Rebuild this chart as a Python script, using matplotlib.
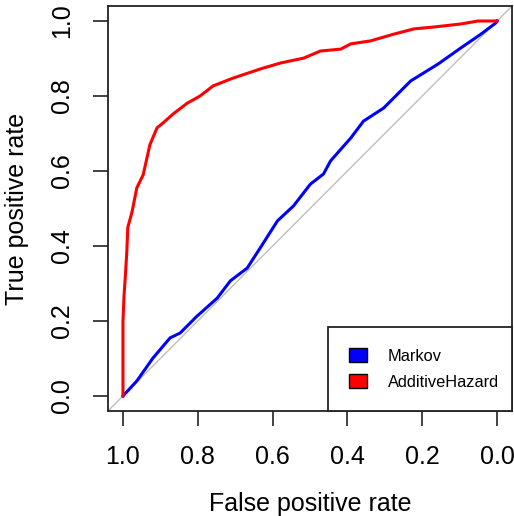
import matplotlib.pyplot as plt
from matplotlib.patches import Patch

plt.rcParams['font.family'] = ['Liberation Sans', 'DejaVu Sans']

# ROC points (x = specificity, shown reversed)
markov_spec = [1.0, 0.963, 0.92, 0.874, 0.847, 0.802, 0.748, 0.713, 0.668, 0.633,
               0.587, 0.544, 0.499, 0.464, 0.445, 0.391, 0.357, 0.303, 0.231,
               0.158, 0.097, 0.043, 0.003, 0.0]
markov_sens = [0.0, 0.04, 0.101, 0.155, 0.168, 0.213, 0.261, 0.307, 0.341, 0.395,
               0.467, 0.507, 0.565, 0.592, 0.627, 0.688, 0.733, 0.768, 0.84,
               0.885, 0.928, 0.965, 0.995, 1.0]

additive_spec = [1.0, 1.0, 0.997, 0.993, 0.99, 0.987, 0.976, 0.963, 0.946, 0.928,
                 0.909, 0.893, 0.866, 0.828, 0.794, 0.759, 0.705, 0.633, 0.579,
                 0.517, 0.472, 0.418, 0.391, 0.338, 0.276, 0.222, 0.169, 0.097,
                 0.051, 0.0]
additive_sens = [0.0, 0.2, 0.27, 0.33, 0.38, 0.45, 0.49, 0.555, 0.59, 0.67,
                 0.715, 0.728, 0.752, 0.781, 0.80, 0.827, 0.848, 0.872, 0.888,
                 0.901, 0.92, 0.925, 0.939, 0.947, 0.965, 0.979, 0.984, 0.992,
                 1.0, 1.0]

ticks = [1.0, 0.8, 0.6, 0.4, 0.2, 0.0]
tick_labels = ['1.0', '0.8', '0.6', '0.4', '0.2', '0.0']
labels = ['Markov', 'AdditiveHazard']
colors = ['blue', 'red']

fig = plt.figure(figsize=(5.14, 5.16), dpi=100)
ax = fig.add_axes([108 / 514, 1 - 411 / 516, 404 / 514, 405 / 516])

# chance diagonal
ax.axline((1, 0), (0, 1), color='#bebebe', lw=1)

ax.plot(markov_spec, markov_sens, color=colors[0], lw=2.2)
ax.plot(additive_spec, additive_sens, color=colors[1], lw=2.2)

ax.set_xlim(1.04, -0.04)
ax.set_ylim(-0.04, 1.04)
ax.set_xticks(ticks)
ax.set_xticklabels(tick_labels)
ax.set_yticks(ticks)
ax.set_yticklabels(tick_labels, rotation=90, va='center')
ax.tick_params(axis='both', length=10.5, width=1.2, labelsize=18, color='#222222')
ax.tick_params(axis='x', pad=14)
ax.tick_params(axis='y', pad=14)
for s in ax.spines.values():
    s.set_linewidth(1.3)
    s.set_color('#222222')

ax.set_xlabel('False positive rate', fontsize=18, labelpad=16.5)
ax.set_ylabel('True positive rate', fontsize=18, labelpad=15)

handles = [Patch(facecolor=c, edgecolor='black', lw=1) for c in colors]
leg = ax.legend(handles, labels, loc='lower left', bbox_to_anchor=(0.545, 0, 0.455, 0.21),
                mode='expand', fontsize=11.8, handlelength=1.05, handleheight=0.9,
                handletextpad=1.3, borderpad=1.3, labelspacing=0.65,
                fancybox=False, borderaxespad=0, framealpha=1)
leg.get_frame().set_edgecolor('#222222')
leg.get_frame().set_linewidth(1.3)

fig.savefig('out.png', dpi=100)
